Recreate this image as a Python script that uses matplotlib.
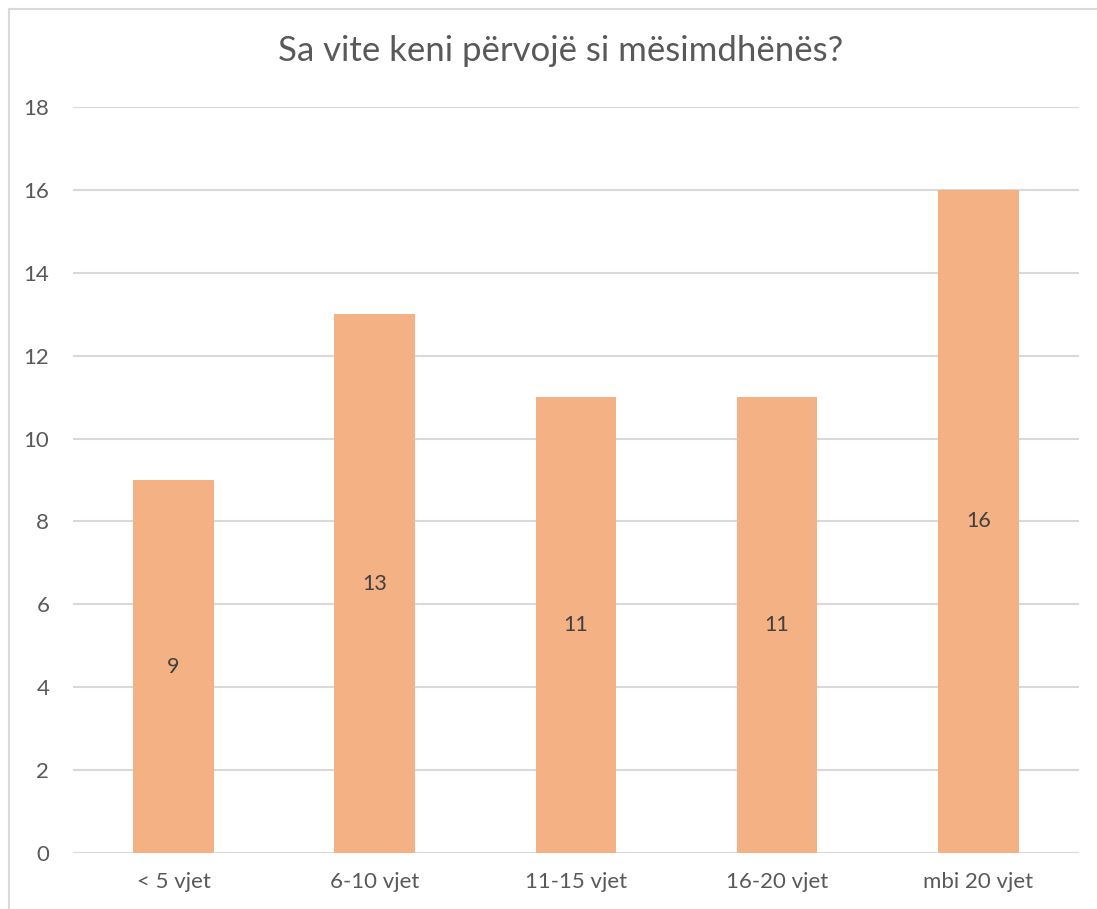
import numpy as np
import matplotlib.pyplot as plt
from matplotlib.lines import Line2D

plt.rcParams['font.family'] = ['Lato', 'DejaVu Sans']

# Te dhenat
kategorite = ['< 5 vjet', '6-10 vjet', '11-15 vjet', '16-20 vjet', 'mbi 20 vjet']
vlerat = [9, 13, 11, 11, 16]
titulli = 'Sa vite keni përvojë si mësimdhënës?'

fig = plt.figure(figsize=(10.97, 9.09), dpi=100)
ax = fig.add_axes([0.0665, 0.0616, 0.917, 0.8207])

x = np.arange(len(kategorite))
bars = ax.bar(x, vlerat, width=0.40, color='#F4B183', zorder=3)
ax.bar_label(bars, labels=[str(v) for v in vlerat], label_type='center',
             fontsize=15.5, color='#404040')

ax.set_xlim(-0.5, len(kategorite) - 0.5)
ax.set_ylim(0, 18)
ax.set_yticks(range(0, 19, 2))
ax.set_xticks(x)
ax.set_xticklabels(kategorite)
ax.tick_params(axis='both', length=0, labelsize=16, colors='#595959')
ax.tick_params(axis='x', pad=14)
ax.tick_params(axis='y', pad=17)
ax.grid(axis='y', color='#D9D9D9', linewidth=1.5, zorder=0)
for s in ax.spines.values():
    s.set_visible(False)

fig.text(0.511, 0.944, titulli, ha='center', va='center', fontsize=25, color='#595959')

# korniza e grafikut (vetem majtas dhe siper)
fig.add_artist(Line2D([8.5 / 1097, 8.5 / 1097], [0, 1 - 9 / 909], color='#D9D9D9', lw=1.5))
fig.add_artist(Line2D([8.5 / 1097, 1], [1 - 9 / 909, 1 - 9 / 909], color='#D9D9D9', lw=1.5))

fig.savefig('out.png', dpi=100)
